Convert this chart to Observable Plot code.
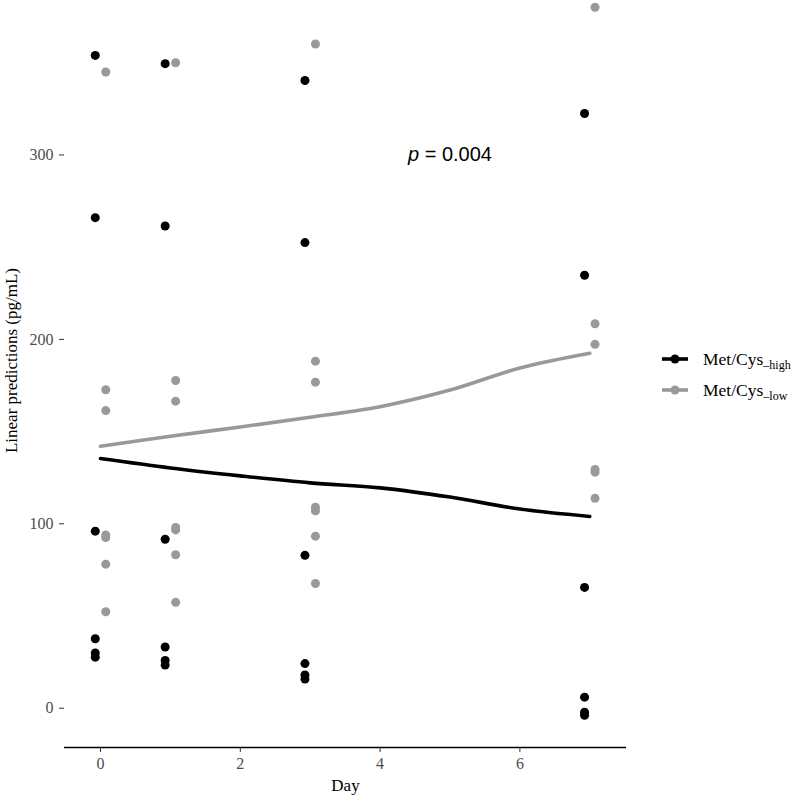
<!DOCTYPE html>
<html>
<head>
<meta charset="utf-8">
<script src="https://cdn.jsdelivr.net/npm/d3@7"></script>
<script src="https://cdn.jsdelivr.net/npm/@observablehq/plot@0.6"></script>
<style>
  html, body { margin: 0; padding: 0; background: #fff; }
  #wrap { position: relative; width: 793px; height: 798px; overflow: hidden; background: #fff; }
  #wrap svg.plot { display: block; margin-top: -27px; }
  .legend { position: absolute; left: 656px; top: 0; width: 137px; height: 10px; font-family: "Liberation Serif", serif; font-size: 17.5px; color: #000; }
  .legend .row { position: absolute; left: 0; height: 20px; white-space: nowrap; display: flex; align-items: center; }
  .legend sub { font-size: 12px; vertical-align: -4px; line-height: 0; }
</style>
</head>
<body>
<div id="wrap"></div>
<script>
// ---- data ----
const groups = ["Met/Cys–high", "Met/Cys–low"];
const groupColors = ["#000000", "#999999"];
const days = [0, 1, 3, 7];
const xTicks = [0, 2, 4, 6];
const yTicks = [0, 100, 200, 300];

// observed values per day (Met/Cys high)
const highValues = [
  [354, 266, 96, 37.7, 30, 27.7],
  [349.5, 261.5, 91.6, 33.2, 25.9, 23.4],
  [340.4, 252.5, 82.9, 24.2, 18, 15.8],
  [322.5, 234.8, 65.5, 6, -2.2, -3.8]
];
// observed values per day (Met/Cys low)
const lowValues = [
  [345, 172.7, 161.4, 93.9, 92.6, 78.1, 52.3],
  [350, 177.7, 166.5, 98, 96.7, 83.2, 57.4],
  [360.2, 188.2, 176.8, 109, 107, 93.3, 67.6],
  [380.1, 208.5, 197.3, 129.5, 128, 113.8]
];

// smoothed prediction curves
const curveDays = [0, 1, 2, 3, 4, 5, 6, 7];
const highCurve = [135.4, 130.3, 126, 122.2, 119.5, 114.5, 108, 104];
const lowCurve = [142.1, 147.5, 152.5, 157.8, 163.5, 172.5, 184.5, 192.5];

const annotationText = ["p = 0.004"];
const annotationX = [5];
const annotationY = [300];

const xLabel = "Day";
const yLabel = "Linear predictions (pg/mL)";

// ---- build tables ----
const dodge = 0.075;
const points = [];
days.forEach((d, i) => {
  highValues[i].forEach(v => points.push({day: d - dodge, value: v, group: groups[0]}));
  lowValues[i].forEach(v => points.push({day: d + dodge, value: v, group: groups[1]}));
});
const curves = [];
curveDays.forEach((d, i) => {
  curves.push({day: d, value: highCurve[i], group: groups[0]});
  curves.push({day: d, value: lowCurve[i], group: groups[1]});
});
const ann = annotationText.map((t, i) => ({text: t, x: annotationX[i], y: annotationY[i]}));

const yMin = -21.3, yMax = 398.4;

const chart = Plot.plot({
  width: 793,
  height: 825,
  marginLeft: 64,
  marginRight: 167,
  marginTop: 0,
  marginBottom: 51,
  style: {fontFamily: "Liberation Serif, serif", fontSize: "16px", background: "transparent", overflow: "visible"},
  x: {domain: [-0.515, 7.525]},
  y: {domain: [yMin, yMax]},
  color: {domain: groups, range: groupColors},
  marks: [
    Plot.ruleY([yMin], {stroke: "#000", strokeWidth: 1.6}),
    Plot.axisX({ticks: xTicks, tickSize: 5, tickPadding: 5, label: null, stroke: "#333", fill: "#4d4d4d", fontSize: 16}),
    Plot.axisY({ticks: yTicks, tickSize: 5, tickPadding: 6, label: null, stroke: "#333", fill: "#4d4d4d", fontSize: 16}),
    Plot.line(curves, {x: "day", y: "value", z: "group", stroke: "group", strokeWidth: 3.6, curve: "catmull-rom"}),
    Plot.dot(points, {x: "day", y: "value", fill: "group", r: 4.5, stroke: null}),
    Plot.text(ann, {x: "x", y: "y", text: "text", fontFamily: "Liberation Sans, sans-serif", fontSize: 20, fill: "#000", lineAnchor: "middle", textAnchor: "middle"}),
    Plot.text([xLabel], {frameAnchor: "bottom", dy: 38, fontSize: 17, fill: "#000", lineAnchor: "middle"}),
    Plot.text([yLabel], {frameAnchor: "left", dx: -53, rotate: -90, fontSize: 17, fill: "#000", lineAnchor: "middle", textAnchor: "middle"})
  ]
});
chart.classList.add("plot");

// italic "p" in annotation
d3.select(chart).selectAll("text").each(function() {
  if (this.textContent === annotationText[0]) {
    const rest = annotationText[0].slice(1);
    this.textContent = "";
    d3.select(this).append("tspan").attr("font-style", "italic").text("p");
    d3.select(this).append("tspan").text(rest);
  }
});

const wrap = document.getElementById("wrap");
wrap.appendChild(chart);

// legend
const legend = document.createElement("div");
legend.className = "legend";
const rowsY = [349, 380];
groups.forEach((g, i) => {
  const row = document.createElement("div");
  row.className = "row";
  row.style.top = rowsY[i] + "px";
  const sym = `<svg width="38" height="20" style="display:block"><line x1="6" y1="10" x2="32" y2="10" stroke="${groupColors[i]}" stroke-width="3.6"/><circle cx="19" cy="10" r="4.5" fill="${groupColors[i]}"/></svg>`;
  const parts = g.split("–");
  row.innerHTML = sym + `<span style="margin-left:9px">${parts[0]}<sub>–${parts[1]}</sub></span>`;
  legend.appendChild(row);
});
wrap.appendChild(legend);
</script>
</body>
</html>
